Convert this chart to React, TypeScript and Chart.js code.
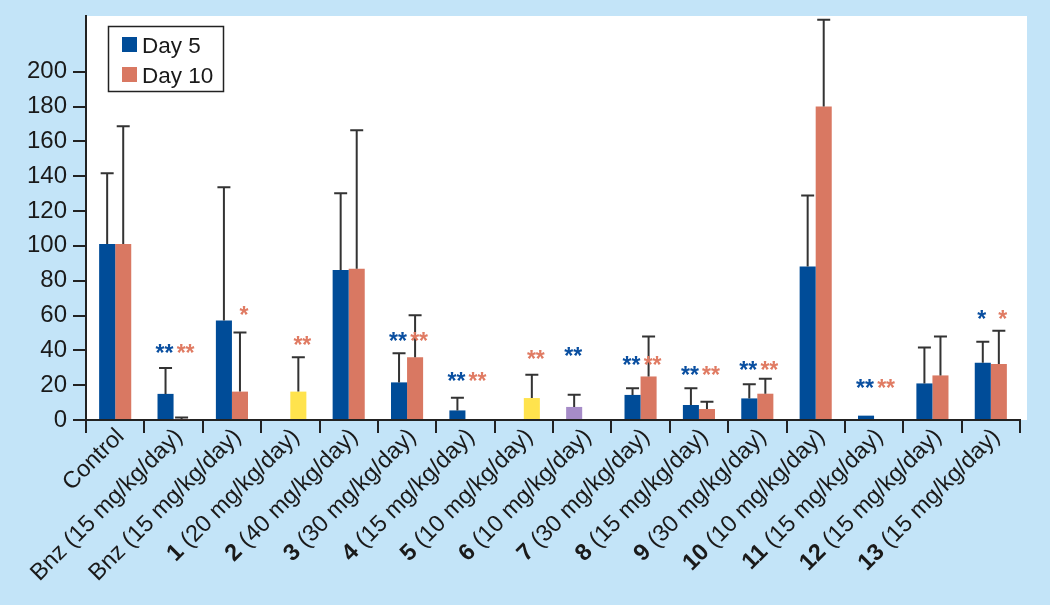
import React, { useEffect, useRef } from "react";
import { Chart, registerables } from "chart.js";

Chart.register(...registerables);

const categories = [
  "Control",
  "Bnz (15 mg/kg/day)",
  "Bnz (15 mg/kg/day)",
  "1 (20 mg/kg/day)",
  "2 (40 mg/kg/day)",
  "3 (30 mg/kg/day)",
  "4 (15 mg/kg/day)",
  "5 (10 mg/kg/day)",
  "6 (10 mg/kg/day)",
  "7 (30 mg/kg/day)",
  "8 (15 mg/kg/day)",
  "9 (30 mg/kg/day)",
  "10 (10 mg/kg/day)",
  "11 (15 mg/kg/day)",
  "12 (15 mg/kg/day)",
  "13 (15 mg/kg/day)",
];

const day5Values = [101, 15, 57.2, null, 86.2, 21.6, 5.5, null, 7.5, 14.4, 8.6, 12.4, 88.1, 2.5, 21, 32.9];
const day5Errors = [141.7, 29.9, 133.7, null, 130.2, 38.3, 12.8, null, 14.5, 18.2, 18.2, 20.5, 128.9, null, 41.7, 45];
const day10Values = [101, 0.5, 16.3, 16.3, 86.8, 36, null, 12.6, null, 25, 6.3, 15.1, 180, null, 25.6, 32.2];
const day10Errors = [168.7, 1.5, 50.3, 36, 166.4, 60.1, null, 26, null, 47.9, 10.5, 23.7, 229.9, null, 47.9, 51.3];

const day5Marks = ["", "**", "", "", "", "**", "**", "", "**", "**", "**", "**", "", "**", "", "*"];
const day5MarkLevels = [null, 41, null, null, null, 47.7, 24.9, null, 39.2, 33.9, 28.5, 31.4, null, 20.7, null, 60.3];
const day10Marks = ["", "**", "*", "**", "", "**", "**", "**", "", "**", "**", "**", "", "**", "", "*"];
const day10MarkLevels = [null, 41, 63, 45.6, null, 47.7, 24.9, 37.9, null, 33.9, 28.5, 31.4, null, 20.7, null, 60.3];

const yTicksMax = 200;

const BLUE = "#004c98";
const ORANGE = "#d97862";
const YELLOW = "#ffe34d";
const PURPLE = "#a68cc8";
const BG = "#c3e4f8";
const INK = "#1a1a1a";
const FONT = "'Liberation Sans', Arial, sans-serif";
const CAT_PCT = 0.55;

const day5Colors = day5Values.map((_, i) => (i === 8 ? PURPLE : BLUE));
const day10Colors = day10Values.map((_, i) => (i === 3 || i === 7 ? YELLOW : ORANGE));

function barCenters(chart: any, i: number) {
  const xs = chart.scales.x;
  const catW = (xs.right - xs.left) / categories.length;
  const bw = (catW * CAT_PCT) / 2;
  const c = xs.getPixelForValue(i);
  return { x5: c - bw / 2, x10: c + bw / 2, c };
}

const bgPlugin = {
  id: "bgPlugin",
  beforeDraw(chart: any) {
    const { ctx, chartArea } = chart;
    ctx.save();
    ctx.fillStyle = BG;
    ctx.fillRect(0, 0, chart.width, chart.height);
    ctx.fillStyle = "#ffffff";
    ctx.fillRect(chartArea.left, chartArea.top, chartArea.right - chartArea.left + 7, chartArea.bottom - chartArea.top);
    ctx.restore();
  },
};

const extrasPlugin = {
  id: "extrasPlugin",
  afterDatasetsDraw(chart: any) {
    const { ctx } = chart;
    const ys = chart.scales.y;
    ctx.save();
    // error bars
    ctx.strokeStyle = "#333333";
    ctx.lineWidth = 2;
    const drawErr = (x: number, v: number | null, e: number | null) => {
      if (v === null || e === null) return;
      const y0 = ys.getPixelForValue(v);
      const y1 = ys.getPixelForValue(e);
      ctx.beginPath();
      ctx.moveTo(x, y0);
      ctx.lineTo(x, y1);
      ctx.moveTo(x - 6.5, y1);
      ctx.lineTo(x + 6.5, y1);
      ctx.stroke();
    };
    categories.forEach((_, i) => {
      const { x5, x10 } = barCenters(chart, i);
      drawErr(x5, day5Values[i], day5Errors[i]);
      drawErr(x10, day10Values[i], day10Errors[i]);
    });
    // significance marks
    ctx.font = `bold 23px ${FONT}`;
    ctx.textAlign = "center";
    ctx.textBaseline = "alphabetic";
    const drawMark = (x: number, s: string, lvl: number | null, color: string) => {
      if (!s || lvl === null) return;
      const m = ctx.measureText(s);
      const asc = m.actualBoundingBoxAscent;
      const desc = m.actualBoundingBoxDescent;
      const yc = ys.getPixelForValue(lvl);
      ctx.fillStyle = color;
      ctx.fillText(s, x, yc + (asc - desc) / 2);
    };
    categories.forEach((_, i) => {
      const { x5, x10 } = barCenters(chart, i);
      drawMark(x5 - 1, day5Marks[i], day5MarkLevels[i], "#0a4fa0");
      drawMark(x10 + 4, day10Marks[i], day10MarkLevels[i], "#e07b63");
    });
    ctx.restore();
  },
  afterDraw(chart: any) {
    const { ctx } = chart;
    const xs = chart.scales.x;
    ctx.save();
    // x category labels (bold compound numbers)
    ctx.fillStyle = INK;
    ctx.textBaseline = "alphabetic";
    ctx.textAlign = "left";
    const regFont = `23.5px ${FONT}`;
    const boldFont = `bold 23.5px ${FONT}`;
    categories.forEach((lab, i) => {
      const m = lab.match(/^(\d+)(.*)$/);
      const boldPart = m ? m[1] : "";
      const rest = m ? m[2] : lab;
      ctx.font = boldFont;
      const wb = boldPart ? ctx.measureText(boldPart).width : 0;
      ctx.font = regFont;
      const wr = ctx.measureText(rest).width;
      const ax = xs.getPixelForValue(i) + 10;
      const ay = 437.6;
      ctx.save();
      ctx.translate(ax, ay);
      ctx.rotate(-Math.PI / 4);
      let sx = -(wb + wr);
      if (boldPart) {
        ctx.font = boldFont;
        ctx.fillText(boldPart, sx, 0);
        sx += wb;
      }
      ctx.font = regFont;
      ctx.fillText(rest, sx, 0);
      ctx.restore();
    });
    // legend
    ctx.fillStyle = "#ffffff";
    ctx.fillRect(108.5, 26.5, 115, 65);
    ctx.strokeStyle = "#222222";
    ctx.lineWidth = 1.5;
    ctx.strokeRect(108.5, 26.5, 115, 65);
    const items = [
      { label: "Day 5", color: BLUE },
      { label: "Day 10", color: ORANGE },
    ];
    ctx.font = `22.5px ${FONT}`;
    items.forEach((it, k) => {
      const top = 37 + k * 30;
      ctx.fillStyle = it.color;
      ctx.fillRect(122, top, 15, 15);
      ctx.fillStyle = INK;
      ctx.fillText(it.label, 142, top + 15.5);
    });
    ctx.restore();
  },
};

export default function App() {
  const ref = useRef<HTMLCanvasElement | null>(null);
  useEffect(() => {
    if (!ref.current) return;
    const chart = new Chart(ref.current, {
      type: "bar",
      data: {
        labels: categories,
        datasets: [
          {
            label: "Day 5",
            data: day5Values as any,
            backgroundColor: day5Colors,
            borderWidth: 0,
          },
          {
            label: "Day 10",
            data: day10Values as any,
            backgroundColor: day10Colors,
            borderWidth: 0,
          },
        ],
      },
      options: {
        responsive: false,
        animation: false,
        devicePixelRatio: 1,
        layout: { padding: { top: 16, right: 30, left: 0, bottom: 0 } },
        datasets: { bar: { categoryPercentage: CAT_PCT, barPercentage: 1 } } as any,
        plugins: { legend: { display: false }, tooltip: { enabled: false } },
        scales: {
          x: {
            offset: true,
            grid: {
              display: true,
              drawOnChartArea: false,
              drawTicks: true,
              tickLength: 13,
              color: "#222222",
              lineWidth: 2,
              offset: true,
            },
            border: { display: true, color: "#222222", width: 2 },
            ticks: { display: false },
            afterFit: (s: any) => {
              s.height = 185;
              s.paddingLeft = 0;
              s.paddingRight = 0;
            },
          },
          y: {
            min: 0,
            max: 232,
            ticks: {
              stepSize: 20,
              includeBounds: false,
              padding: 6,
              color: INK,
              font: { family: FONT, size: 24 },
              callback: (v: any) => (Number(v) > yTicksMax ? "" : String(v)),
            },
            grid: {
              drawOnChartArea: false,
              tickLength: 13,
              lineWidth: 2,
              color: (c: any) => (c.tick && c.tick.value > yTicksMax ? "rgba(0,0,0,0)" : "#222222"),
            },
            border: { display: true, color: "#222222", width: 2 },
            afterFit: (s: any) => {
              s.width = 86;
              s.paddingTop = 0;
              s.paddingBottom = 0;
            },
          },
        },
      },
      plugins: [bgPlugin, extrasPlugin],
    });
    return () => chart.destroy();
  }, []);
  return (
    <div style={{ position: "fixed", left: 0, top: 0, width: 1050, height: 605 }}>
      <canvas ref={ref} width={1050} height={605} style={{ display: "block", width: 1050, height: 605 }} />
    </div>
  );
}
